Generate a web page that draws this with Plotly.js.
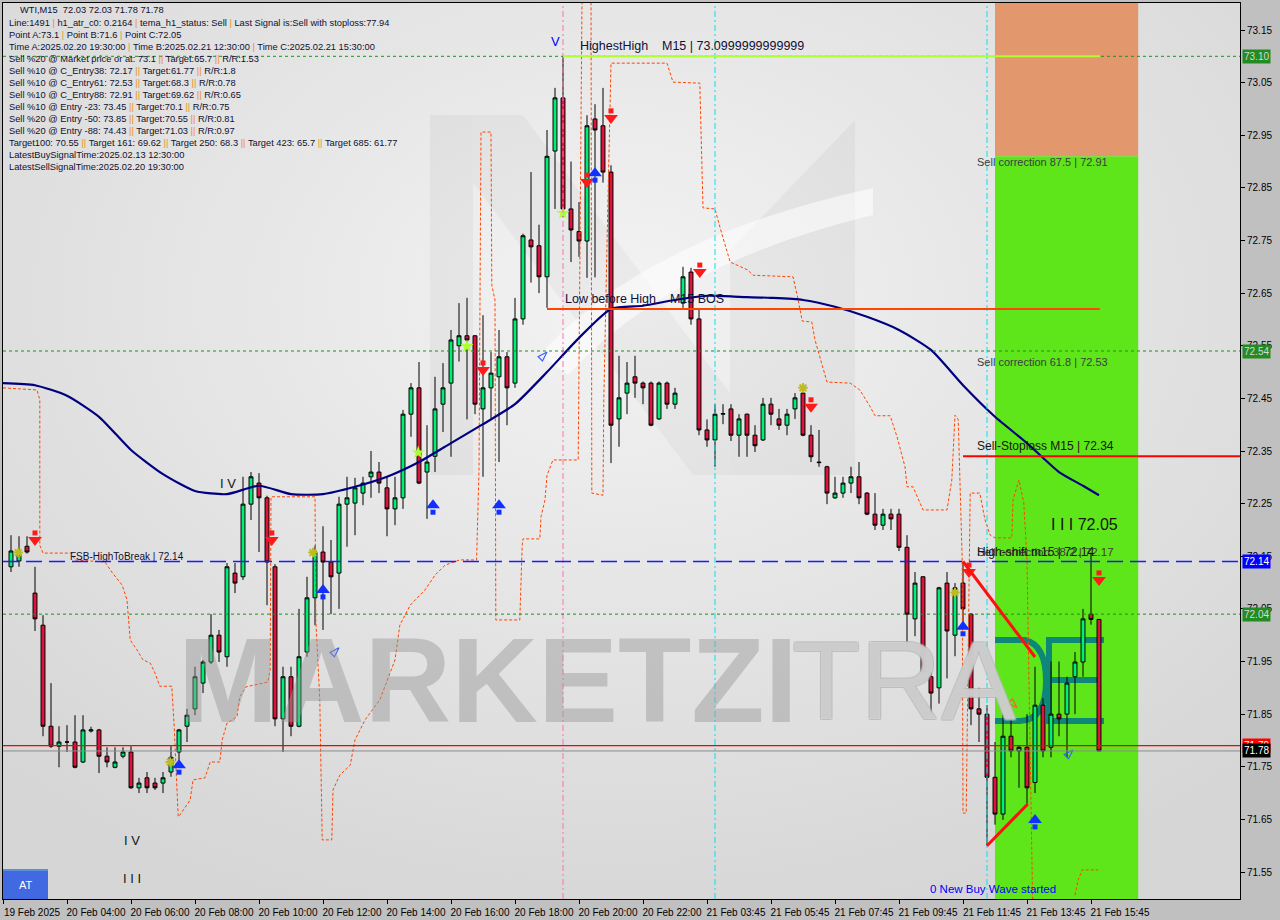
<!DOCTYPE html>
<html><head><meta charset="utf-8">
<script src="https://cdn.plot.ly/plotly-3.0.1.min.js"></script>
<style>html,body{margin:0;padding:0;background:#c0c0c0;}#chart{width:1280px;height:920px;}</style>
</head><body><div id="chart"></div>
<script>
// ---------------- DATA ----------------
const open=[72.130,72.141,72.169,72.080,72.019,71.827,71.789,71.797,71.797,71.759,
71.818,71.820,71.770,71.749,71.770,71.778,71.710,71.729,71.719,71.719,
71.740,71.778,71.827,71.860,71.909,71.949,72.000,71.959,72.118,72.111,
72.249,72.289,72.261,72.130,71.841,71.921,71.827,71.968,72.071,72.158,
72.139,72.118,72.249,72.251,72.270,72.301,72.310,72.280,72.240,72.261,
72.420,72.470,72.310,72.340,72.439,72.479,72.550,72.569,72.569,72.430,
72.470,72.491,72.529,72.479,72.601,72.751,72.740,72.681,72.920,73.021,
72.810,72.767,72.749,72.981,72.968,72.880,72.411,72.460,72.491,72.479,
72.479,72.411,72.479,72.439,72.631,72.690,72.601,72.390,72.371,72.420,
72.430,72.380,72.420,72.380,72.371,72.439,72.411,72.399,72.430,72.460,
72.380,72.329,72.320,72.261,72.270,72.289,72.301,72.270,72.230,72.209,
72.230,72.230,72.167,72.031,72.111,71.921,71.900,72.099,72.000,72.099,
72.040,71.860,71.850,71.730,71.660,71.808,71.780,71.787,71.720,71.867,
71.787,71.850,71.850,71.921,71.949,72.040,72.030];
const high=[72.190,72.188,72.188,72.130,72.038,71.909,71.827,71.829,71.848,71.848,
71.826,71.822,71.787,71.787,71.787,71.789,71.729,71.740,71.729,71.740,
71.789,71.822,71.860,71.940,71.953,72.040,72.010,72.137,72.137,72.301,
72.310,72.308,72.265,72.135,71.940,71.940,72.050,72.111,72.170,72.207,
72.181,72.263,72.301,72.299,72.301,72.350,72.329,72.301,72.301,72.428,
72.479,72.519,72.399,72.491,72.517,72.580,72.631,72.641,72.570,72.608,
72.538,72.580,72.538,72.641,72.763,72.880,72.780,72.960,73.040,73.100,
72.900,72.823,72.988,73.009,73.040,72.893,72.531,72.519,72.531,72.482,
72.482,72.482,72.482,72.470,72.700,72.698,72.618,72.410,72.439,72.439,
72.439,72.420,72.421,72.399,72.451,72.451,72.430,72.430,72.460,72.470,
72.399,72.390,72.322,72.301,72.301,72.320,72.329,72.272,72.270,72.240,
72.240,72.240,72.190,72.120,72.112,71.930,72.092,72.120,72.099,72.140,
72.042,71.900,71.867,71.797,71.850,71.850,71.790,71.850,71.940,71.880,
71.950,71.950,71.921,71.968,72.050,72.157,72.030];
const low=[72.120,72.130,72.155,72.008,71.808,71.786,71.749,71.778,71.747,71.757,
71.815,71.738,71.749,71.747,71.766,71.708,71.700,71.700,71.706,71.700,
71.731,71.759,71.797,71.848,71.890,71.945,71.949,71.940,72.080,72.105,
72.219,72.158,72.057,71.827,71.778,71.808,71.825,71.959,72.019,72.010,
72.040,72.050,72.168,72.190,72.247,72.261,72.270,72.188,72.209,72.240,
72.377,72.287,72.221,72.310,72.386,72.339,72.520,72.410,72.420,72.301,
72.410,72.329,72.399,72.470,72.590,72.670,72.650,72.622,72.810,72.795,
72.709,72.719,72.679,72.680,72.860,72.327,72.358,72.420,72.451,72.439,
72.397,72.409,72.430,72.430,72.622,72.590,72.380,72.358,72.320,72.401,
72.369,72.339,72.339,72.348,72.369,72.399,72.390,72.380,72.411,72.378,
72.329,72.320,72.249,72.259,72.261,72.270,72.249,72.228,72.200,72.200,
72.200,72.160,71.978,71.998,71.928,71.850,71.870,71.918,71.960,72.023,
71.829,71.797,71.600,71.640,71.649,71.768,71.710,71.680,71.700,71.768,
71.768,71.808,71.768,71.850,71.921,72.020,71.780];
const close=[72.160,72.154,72.158,72.031,71.827,71.789,71.797,71.797,71.749,71.820,
71.820,71.770,71.759,71.759,71.778,71.710,71.719,71.710,71.710,71.729,
71.768,71.820,71.848,71.921,71.949,72.000,71.968,72.130,72.099,72.249,
72.301,72.261,72.139,71.841,71.921,71.827,71.959,72.071,72.158,72.139,
72.111,72.249,72.261,72.280,72.289,72.310,72.289,72.240,72.261,72.420,
72.470,72.289,72.329,72.430,72.470,72.561,72.569,72.561,72.439,72.470,
72.498,72.529,72.470,72.601,72.759,72.738,72.681,72.910,73.021,72.810,
72.770,72.749,72.968,72.960,72.880,72.399,72.451,72.479,72.479,72.470,
72.399,72.479,72.439,72.460,72.681,72.601,72.390,72.371,72.420,72.421,
72.380,72.411,72.380,72.360,72.439,72.420,72.399,72.420,72.451,72.380,
72.339,72.328,72.270,72.270,72.289,72.301,72.261,72.230,72.209,72.230,
72.221,72.167,72.040,72.099,71.930,71.890,72.090,72.008,72.090,72.050,
71.860,71.850,71.730,71.660,71.808,71.780,71.787,71.710,71.867,71.780,
71.850,71.841,71.909,71.949,72.031,72.030,71.780];

// moving average (navy) sampled at bar positions
const maBars=[-1,3,7,11,15,19,23,27,31,35,39,43,47,51,55,59,63,67,71,75,79,83,87,91,95,99,103,107,111,115,119,123,127,131,134,136];
const maVals=[72.479,72.475,72.455,72.415,72.352,72.306,72.274,72.268,72.284,72.268,72.268,72.282,72.301,72.329,72.365,72.401,72.439,72.500,72.565,72.620,72.626,72.637,72.645,72.643,72.641,72.637,72.624,72.605,72.580,72.542,72.475,72.415,72.365,72.310,72.284,72.266];

// orange stepped channel (dashed), null = break
const trailBars=[-1,3.25,3.6,3.6,4,7.6,8,11.75,12.6,13.9,14.5,14.9,15.75,16.5,17.4,18,18.6,20.1,20.4,20.9,21.1,22.4,22.75,24.25,24.9,26.1,26.4,27,28.25,28.6,29.4,32.1,32.4,32.5,38,38.1,38.6,38.9,40.1,40.25,41.1,42.4,43,44.25,46.1,48,48.6,49.9,51.75,53,54.25,56.1,58.2,58.5,58.75,60,60.1,60.5,60.6,63.6,63.9,64,66.1,66.25,66.75,67,67.75,70.9,71.1,71.4,null,
72.5,72.6,74,74.1,74.6,75,82,82.75,86.1,86.5,88,88.6,89.9,92.1,92.75,97.75,98.4,98.9,100.1,100.5,101.1,102,104.9,106.1,107.4,108,109.9,110.75,111.75,112,112.75,114,117,117.6,118,118.4,118.9,119,119.4,119.9,121.1,121.75,122.4,123,125.1,125.25,126,126.6,127,127.75,null,
133,133.4,133.9,135.9];
const trailVals=[72.470,72.466,72.447,72.171,72.156,72.156,72.143,72.139,72.120,72.095,72.067,71.991,71.972,71.953,71.947,71.928,71.903,71.903,71.826,71.655,71.658,71.687,71.725,71.729,71.759,71.759,71.801,71.833,71.845,71.883,71.902,71.911,71.934,72.263,72.263,72.029,71.877,71.611,71.611,71.706,71.734,71.753,71.801,71.839,71.877,71.953,72.019,72.057,72.086,72.114,72.133,72.143,72.143,72.314,72.956,72.956,72.665,72.637,72.029,72.029,72.171,72.183,72.183,72.225,72.257,72.304,72.333,72.333,72.694,73.25,null,
73.25,72.270,72.266,72.447,72.812,73.087,73.087,73.051,73.049,72.812,72.810,72.776,72.709,72.694,72.684,72.681,72.637,72.597,72.595,72.561,72.529,72.481,72.479,72.466,72.434,72.417,72.417,72.377,72.320,72.282,72.282,72.238,72.238,72.295,72.418,72.410,72.143,71.662,71.662,72.270,72.270,72.219,72.190,72.185,72.185,72.257,72.295,72.251,72.143,71.45,null,
71.506,71.535,71.554,71.554];

// signal markers
const sellArrowBars=[3,32.6,59,72,75,86.1,100,119.75,136];
const sellArrowVals=[72.181,72.181,72.504,72.861,72.983,72.690,72.434,72.120,72.105];
const buyArrowBars=[21,39,52.75,61,73,119,128];
const buyArrowVals=[71.753,72.086,72.247,72.247,72.878,72.016,71.649];
const starBars=[69,57,50.9];
const starVals=[72.802,72.549,72.347];
const crossBars=[0.9,19.9,37.75,99,118];
const crossVals=[72.157,71.759,72.157,72.470,72.081];
const hollowBlueBars=[67,41,132.75];
const hollowBlueVals=[72.538,71.976,71.782];
const hollowOrangeBars=[125.75];
const hollowOrangeVals=[71.862];

// levels
const highestHigh=73.10, lowBeforeHigh=72.62, sellStop=72.34, fsbHigh=72.14;
const corr875=72.91, corr618=72.54, corr382=72.04, lastRed=71.79, bid=71.78;
const zoneStart=123, zoneEnd=140.9;

const xTickText=['19 Feb 2025','20 Feb 04:00','20 Feb 06:00','20 Feb 08:00','20 Feb 10:00','20 Feb 12:00','20 Feb 14:00','20 Feb 16:00','20 Feb 18:00','20 Feb 20:00','20 Feb 22:00','21 Feb 03:45','21 Feb 05:45','21 Feb 07:45','21 Feb 09:45','21 Feb 11:45','21 Feb 13:45','21 Feb 15:45'];
const yTicks=[71.55,71.65,71.75,71.85,71.95,72.05,72.15,72.25,72.35,72.45,72.55,72.65,72.75,72.85,72.95,73.05,73.15];

const headerLines=[
 'WTI,M15  72.03 72.03 71.78 71.78',
 'Line:1491 | h1_atr_c0: 0.2164 | tema_h1_status: Sell | Last Signal is:Sell with stoploss:77.94',
 'Point A:73.1 | Point B:71.6 | Point C:72.05',
 'Time A:2025.02.20 19:30:00 | Time B:2025.02.21 12:30:00 | Time C:2025.02.21 15:30:00',
 'Sell %20 @ Market price or at: 73.1 || Target:65.7 || R/R:1.53',
 'Sell %10 @ C_Entry38: 72.17 || Target:61.77 || R/R:1.8',
 'Sell %10 @ C_Entry61: 72.53 || Target:68.3 || R/R:0.78',
 'Sell %10 @ C_Entry88: 72.91 || Target:69.62 || R/R:0.65',
 'Sell %10 @ Entry -23: 73.45 || Target:70.1 || R/R:0.75',
 'Sell %20 @ Entry -50: 73.85 || Target:70.55 || R/R:0.81',
 'Sell %20 @ Entry -88: 74.43 || Target:71.03 || R/R:0.97',
 'Target100: 70.55 || Target 161: 69.62 || Target 250: 68.3 || Target 423: 65.7 || Target 685: 61.77',
 'LatestBuySignalTime:2025.02.13 12:30:00',
 'LatestSellSignalTime:2025.02.20 19:30:00'];

// ---------------- GEOMETRY HELPERS ----------------
const W=1280,H=920,ML=3,MR=40,MT=3,MB=21;
const PW=W-ML-MR, PH=H-MT-MB;
const PPU=526.25;                 // pixels per price unit
const YTOP=73.15+27/PPU, YBOT=YTOP-PH/PPU;
const XMIN=-1, XMAX=XMIN+PW/8;
const bx=px=>(px-11)/8;
const vy=py=>YTOP-(py-MT)/PPU;
const pxX=px=>(px-ML)/PW;
const pxY=py=>(H-MB-py)/PH;
const bars=open.map((_,i)=>i);
const FONT='Liberation Sans, Arial, sans-serif';

// ---------------- BACKGROUND ----------------
const svg=`<svg xmlns='http://www.w3.org/2000/svg' width='${PW}' height='${PH}'>
<defs><radialGradient id='g' cx='0.5' cy='0.33' r='0.72'>
<stop offset='0' stop-color='#f3f3f3'/><stop offset='0.55' stop-color='#e3e3e3'/><stop offset='1' stop-color='#d6d6d6'/></radialGradient></defs>
<rect width='${PW}' height='${PH}' fill='url(#g)'/>
<polygon points='427,112 470,112 470,472 427,472' fill='#000' opacity='0.035'/>
<polygon points='470,112 520,112 727,390 727,472 690,472 470,180' fill='#000' opacity='0.03'/>
<polygon points='727,247 852,117 852,472 727,472' fill='#000' opacity='0.035'/>
<path d='M537,352 Q640,235 870,185 L870,212 Q665,262 565,372 Z' fill='#fff' opacity='0.55'/>
</svg>`;
const bgSrc='data:image/svg+xml;charset=utf-8,'+encodeURIComponent(svg);

// ---------------- TRACES ----------------
const traces=[];
traces.push({type:'scatter',mode:'lines',x:trailBars,y:trailVals,connectgaps:false,
  line:{color:'#ff4500',width:1,dash:'3px,2px'},hoverinfo:'skip'});
traces.push({type:'scatter',mode:'lines',x:maBars,y:maVals,line:{color:'#000080',width:2.2,shape:'spline',smoothing:0.6},hoverinfo:'skip'});
traces.push({type:'candlestick',x:bars,open:open,high:high,low:low,close:close,
  increasing:{line:{color:'#000000',width:1},fillcolor:'#00ee76'},
  decreasing:{line:{color:'#000000',width:1},fillcolor:'#dc143c'},
  whiskerwidth:0,hoverinfo:'skip'});
// sell / buy arrows: shaft + head
const off=7/PPU;
traces.push({type:'scatter',mode:'markers',x:sellArrowBars,y:sellArrowVals.map(v=>v+off),
  marker:{symbol:'square',size:5,color:'#ff1a1a',line:{width:0}},hoverinfo:'skip'});
traces.push({type:'scatter',mode:'markers',x:sellArrowBars,y:sellArrowVals,
  marker:{symbol:'triangle-down',size:12,color:'#ff1a1a',line:{width:0}},hoverinfo:'skip'});
traces.push({type:'scatter',mode:'markers',x:buyArrowBars,y:buyArrowVals.map(v=>v-off),
  marker:{symbol:'square',size:5,color:'#1030ff',line:{width:0}},hoverinfo:'skip'});
traces.push({type:'scatter',mode:'markers',x:buyArrowBars,y:buyArrowVals,
  marker:{symbol:'triangle-up',size:12,color:'#1030ff',line:{width:0}},hoverinfo:'skip'});
traces.push({type:'scatter',mode:'markers',x:starBars,y:starVals,
  marker:{symbol:'star',size:10,color:'#adff2f',line:{width:0}},hoverinfo:'skip'});
traces.push({type:'scatter',mode:'markers',x:crossBars,y:crossVals,
  marker:{symbol:'asterisk-open',size:8,line:{color:'#e0a060',width:2}},hoverinfo:'skip'});
traces.push({type:'scatter',mode:'markers',x:hollowBlueBars,y:hollowBlueVals,
  marker:{symbol:'arrow-open',angle:45,size:10,color:'#3366ff',line:{color:'#3366ff',width:1.2}},hoverinfo:'skip'});
traces.push({type:'scatter',mode:'markers',x:hollowOrangeBars,y:hollowOrangeVals,
  marker:{symbol:'arrow-open',angle:135,size:10,color:'#ff5a3a',line:{color:'#ff5a3a',width:1.2}},hoverinfo:'skip'});

// ---------------- SHAPES ----------------
const shapes=[];
const hline=(y,x0,x1,color,width,dash)=>shapes.push({type:'line',xref:'x',yref:'y',x0:x0,x1:x1,y0:y,y1:y,line:{color:color,width:width,dash:dash||'solid'}});
const vline=(x,color,dash)=>shapes.push({type:'line',xref:'x',yref:'paper',x0:x,x1:x,y0:0,y1:1,line:{color:color,width:1,dash:dash}});
shapes.push({type:'rect',xref:'x',yref:'y',x0:zoneStart,x1:zoneEnd,y0:corr875,y1:YTOP,fillcolor:'#e3976c',line:{width:0},layer:'below'});
shapes.push({type:'rect',xref:'x',yref:'y',x0:zoneStart,x1:zoneEnd,y0:YBOT,y1:corr875,fillcolor:'#5fe61a',line:{width:0},layer:'below'});
// teal watermark letters on the zone
const teal='#0d8878';
shapes.push({type:'path',xref:'x',yref:'y',path:`M ${bx(995)},${vy(640)} L ${bx(1025)},${vy(640)} Q ${bx(1046)},${vy(645)} ${bx(1046)},${vy(681)} Q ${bx(1046)},${vy(720)} ${bx(1020)},${vy(721)} L ${bx(995)},${vy(721)}`,line:{color:teal,width:6},layer:'below'});
shapes.push({type:'path',xref:'x',yref:'y',path:`M ${bx(1104)},${vy(640)} L ${bx(1049)},${vy(640)} L ${bx(1049)},${vy(721)} L ${bx(1104)},${vy(721)} M ${bx(1049)},${vy(680)} L ${bx(1100)},${vy(680)}`,line:{color:teal,width:6},layer:'below'});
vline(69,'#ff6eb4','6px,3px,2px,3px');
vline(88,'#00e5ee','6px,3px,2px,3px');
vline(122,'#00e5ee','6px,3px,2px,3px');
hline(highestHigh,XMIN,XMAX,'#1f8f1f',1,'3px,3px');
hline(corr618,XMIN,XMAX,'#1f8f1f',1,'3px,3px');
hline(corr382,XMIN,XMAX,'#1f8f1f',1,'3px,3px');
hline(fsbHigh,XMIN,XMAX,'#1a1aff',1.4,'16px,7px');
hline(lastRed,XMIN,XMAX,'#ff0000',1.2);
hline(bid,XMIN,XMAX,'#8c8c8c',1);
hline(highestHigh,69,136.1,'#adff2f',2);
hline(lowBeforeHigh,67,136.1,'#ff4500',2);
hline(sellStop,119,XMAX,'#ff0000',2);
// swing trend lines
shapes.push({type:'line',xref:'x',yref:'y',x0:119,y0:high[119],x1:128,y1:vy(657),line:{color:'#ff1010',width:3}});
shapes.push({type:'line',xref:'x',yref:'y',x0:122,y0:low[122],x1:127.1,y1:vy(804),line:{color:'#ff1010',width:3}});
// AT button
shapes.push({type:'rect',xref:'paper',yref:'paper',x0:pxX(3),x1:pxX(48),y0:pxY(899),y1:pxY(869),fillcolor:'#4169e1',line:{width:0}});
shapes.push({type:'rect',xref:'paper',yref:'paper',x0:pxX(3),x1:pxX(48),y0:pxY(871),y1:pxY(869),fillcolor:'#5b8fd8',line:{width:0}});

// ---------------- ANNOTATIONS ----------------
const ann=[];
const txt=(px,py,text,size,color,extra)=>ann.push(Object.assign({xref:'x',yref:'y',x:bx(px),y:vy(py),text:text,showarrow:false,xanchor:'left',yanchor:'middle',font:{family:FONT,size:size,color:color}},extra||{}));
// watermark
ann.push({xref:'x',yref:'y',x:bx(176),y:vy(680),text:'<b>MARKETZI</b>',showarrow:false,xanchor:'left',yanchor:'middle',font:{family:FONT,size:120,color:'rgba(150,150,150,0.45)'}});
ann.push({xref:'x',yref:'y',x:bx(790),y:vy(680),text:'TRA',showarrow:false,xanchor:'left',yanchor:'middle',
  font:{family:FONT,size:112,color:'rgba(222,222,222,0.55)',shadow:'1px 1px 0 #b4b4b4, -1px -1px 0 #b4b4b4, 1px -1px 0 #b4b4b4, -1px 1px 0 #b4b4b4'}});
// chart texts
txt(578,46,'HighestHigh    M15 | 73.0999999999999',12.5,'#101035');
txt(563,299,'Low before High    M15 BOS',12.5,'#101035');
txt(68,556,'FSB-HighToBreak | 72.14',10,'#101035');
txt(975,162,'Sell correction 87.5 | 72.91',11,'#3d3d3d');
txt(975,362,'Sell correction 61.8 | 72.53',11,'#3d3d3d');
txt(975,446,'Sell-Stoploss M15 | 72.34',12,'#151515');
txt(975,552,'Sell correction 38.2 | 72.17',11.5,'#3d3d3d');
txt(975,552,'High-shift m15 | 72.14',12,'#151515');
txt(1049,524,'I I I 72.05',16,'#151515');
txt(218,483,'I V',13,'#151515');
txt(122,840,'I V',13,'#151515');
txt(121,878,'I I I',13,'#151515');
txt(549,41,'V',13,'#0000ff');
txt(928,889,'0 New Buy Wave started',11.5,'#0000ff');
// AT label
ann.push({xref:'paper',yref:'paper',x:pxX(25.5),y:pxY(885),text:'AT',showarrow:false,xanchor:'center',yanchor:'middle',font:{family:FONT,size:11,color:'#ffffff'}});
// header block
headerLines.forEach((s,i)=>{
  const html=s.replace(/\|\|/g,'\u0001').replace(/\|/g,'<span style="color:#e8901a">|</span>').replace(/\u0001/g,'<span style="color:#e8901a">||</span>');
  ann.push({xref:'paper',yref:'paper',x:pxX(i===0?18:7),y:pxY(i===0?10.5:23.3+12*(i-1)),text:html,showarrow:false,xanchor:'left',yanchor:'middle',
    font:{family:FONT,size:9.3,color:'#101030'}});
});
// price boxes on the scale
const box=(v,bg,fg)=>ann.push({xref:'paper',yref:'y',x:1,xshift:2,y:v,text:v.toFixed(2),showarrow:false,xanchor:'left',yanchor:'middle',bgcolor:bg,borderpad:1,font:{family:FONT,size:10,color:fg}});
box(highestHigh,'#228b22','#d8d8d8');
box(corr618,'#228b22','#d8d8d8');
box(fsbHigh,'#0000ff','#ffffff');
box(corr382,'#228b22','#d8d8d8');
box(lastRed,'#ff0000','#ffffff');
box(bid,'#000000','#ffffff');

const xTickVals=xTickText.map((_,k)=>-1+8*k);

const layout={
  width:W,height:H,margin:{l:ML,r:MR,t:MT,b:MB,pad:0},
  paper_bgcolor:'#c0c0c0',plot_bgcolor:'#dcdcdc',showlegend:false,
  font:{family:FONT,size:10,color:'#000'},
  xaxis:{range:[XMIN,XMAX],showgrid:false,zeroline:false,rangeslider:{visible:false},
    tickmode:'array',tickvals:xTickVals,ticktext:xTickText,ticks:'outside',ticklen:4,tickcolor:'#000',
    ticklabelshift:29,tickfont:{family:FONT,size:10,color:'#000'},
    showline:true,linecolor:'#000',linewidth:1,mirror:true,fixedrange:true},
  yaxis:{range:[YBOT,YTOP],side:'right',showgrid:false,zeroline:false,
    tickmode:'array',tickvals:yTicks,ticktext:yTicks.map(v=>v.toFixed(2)),ticks:'outside',ticklen:4,tickcolor:'#000',
    tickfont:{family:FONT,size:10,color:'#000'},
    showline:true,linecolor:'#000',linewidth:1,mirror:true,fixedrange:true},
  images:[{source:bgSrc,xref:'paper',yref:'paper',x:0,y:1,sizex:1,sizey:1,xanchor:'left',yanchor:'top',sizing:'stretch',layer:'below'}],
  shapes:shapes,annotations:ann
};
Plotly.newPlot('chart',traces,layout,{staticPlot:true,displayModeBar:false});
</script></body></html>
